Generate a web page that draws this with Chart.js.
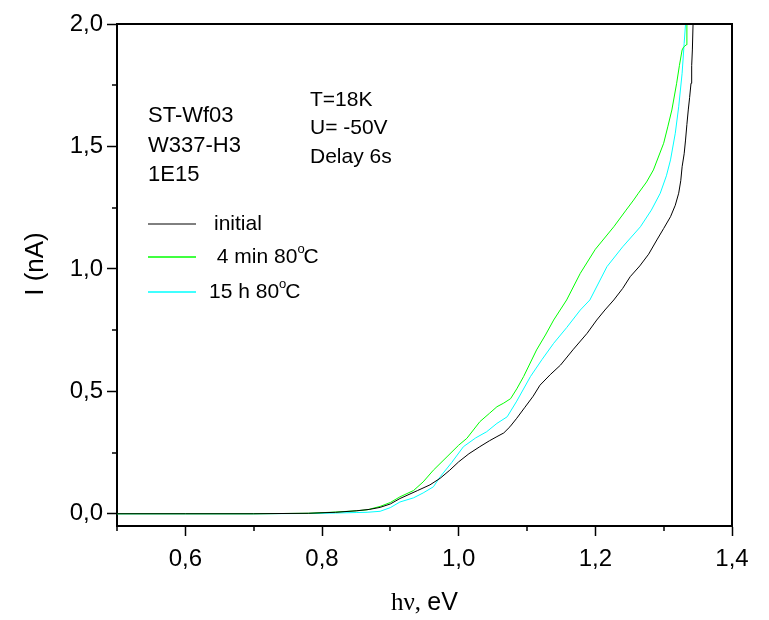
<!DOCTYPE html>
<html>
<head>
<meta charset="utf-8">
<script src="https://cdn.jsdelivr.net/npm/chart.js@4.4.0/dist/chart.umd.min.js"></script>
<style>
html, body { margin: 0; padding: 0; background: #fff; }
</style>
</head>
<body>
<canvas id="myChart" width="769" height="620"></canvas>
<script>
// photon energy (eV) and current (nA)
var initialX = [0.50, 0.60, 0.70, 0.78, 0.82, 0.85, 0.87, 0.885, 0.90, 0.914, 0.94, 0.958, 0.973, 0.987, 1.000, 1.015, 1.031, 1.045, 1.056, 1.066, 1.075, 1.085, 1.097, 1.109, 1.119, 1.134, 1.149, 1.168, 1.188, 1.202, 1.214, 1.227, 1.240, 1.251, 1.265, 1.278, 1.290, 1.300, 1.310, 1.317, 1.322, 1.325, 1.327, 1.330, 1.332, 1.334, 1.336, 1.338, 1.340, 1.341, 1.342, 1.343];
var initialY = [0, 0, 0, 0.002, 0.006, 0.012, 0.018, 0.026, 0.04, 0.062, 0.095, 0.118, 0.145, 0.178, 0.212, 0.245, 0.274, 0.298, 0.315, 0.33, 0.355, 0.39, 0.435, 0.48, 0.525, 0.568, 0.607, 0.672, 0.737, 0.791, 0.832, 0.873, 0.92, 0.968, 1.012, 1.06, 1.118, 1.165, 1.213, 1.26, 1.309, 1.36, 1.417, 1.47, 1.526, 1.59, 1.649, 1.70, 1.758, 1.83, 1.894, 2.0];

var min4X = [0.50, 0.60, 0.70, 0.78, 0.82, 0.85, 0.866, 0.885, 0.90, 0.914, 0.934, 0.948, 0.963, 0.983, 1.000, 1.012, 1.031, 1.045, 1.056, 1.066, 1.076, 1.085, 1.095, 1.114, 1.127, 1.139, 1.158, 1.178, 1.200, 1.227, 1.245, 1.256, 1.263, 1.275, 1.285, 1.300, 1.306, 1.312, 1.319, 1.323, 1.327, 1.329, 1.331, 1.333, 1.334];
var min4Y = [0, 0, 0, 0.002, 0.007, 0.012, 0.016, 0.03, 0.046, 0.069, 0.095, 0.13, 0.178, 0.233, 0.28, 0.308, 0.376, 0.41, 0.437, 0.452, 0.47, 0.51, 0.56, 0.669, 0.73, 0.791, 0.873, 0.982, 1.08, 1.172, 1.24, 1.281, 1.309, 1.355, 1.404, 1.513, 1.58, 1.649, 1.758, 1.83, 1.894, 1.905, 1.91, 1.915, 2.0];

var h15X = [0.50, 0.60, 0.70, 0.78, 0.82, 0.85, 0.866, 0.885, 0.90, 0.914, 0.934, 0.948, 0.963, 0.973, 0.990, 1.007, 1.025, 1.041, 1.056, 1.071, 1.085, 1.105, 1.122, 1.139, 1.158, 1.178, 1.192, 1.217, 1.240, 1.266, 1.282, 1.295, 1.304, 1.310, 1.317, 1.322, 1.327, 1.330, 1.332];
var h15Y = [0, 0, 0, 0.001, 0.003, 0.005, 0.006, 0.01, 0.025, 0.048, 0.065, 0.085, 0.11, 0.151, 0.21, 0.274, 0.31, 0.335, 0.369, 0.396, 0.46, 0.56, 0.63, 0.696, 0.76, 0.832, 0.873, 1.009, 1.09, 1.172, 1.24, 1.309, 1.38, 1.445, 1.554, 1.662, 1.799, 1.921, 2.0];

var xTicks = [0.5, 0.6, 0.7, 0.8, 0.9, 1.0, 1.1, 1.2, 1.3, 1.4];
var yTicks = [0, 0.25, 0.5, 0.75, 1.0, 1.25, 1.5, 1.75, 2.0];
var seriesNames = ['initial', ' 4 min 80', '15 h 80'];
var seriesColors = ['#000000', '#00ff00', '#00ffff'];
var sampleText = ['ST-Wf03', 'W337-H3', '1E15'];
var condText = ['T=18K', 'U= -50V', 'Delay 6s'];

var sans = '"Liberation Sans", Arial, sans-serif';
var serif = '"Liberation Serif", "Times New Roman", serif';

function toPoints(xs, ys) {
    return xs.map(function (x, i) { return { x: x, y: ys[i] }; });
}
function xMajor(v) { return Math.round(v * 10) % 2 === 0; }
function yMajor(v) { return Math.round(v * 4) % 2 === 0; }

var seriesData = [toPoints(initialX, initialY), toPoints(min4X, min4Y), toPoints(h15X, h15Y)];

// frame, minor ticks, titles, text notes and legend
var extras = {
    id: 'extras',
    afterDraw: function (chart) {
        var c = chart.ctx;
        var a = chart.chartArea;
        var xs = chart.scales.x;
        var ys = chart.scales.y;
        c.save();
        c.strokeStyle = '#000';
        c.lineWidth = 2;
        c.beginPath();
        c.moveTo(a.left, a.top);
        c.lineTo(a.right, a.top);
        c.lineTo(a.right, a.bottom);
        c.stroke();

        // minor ticks
        c.lineWidth = 1.5;
        c.beginPath();
        xTicks.forEach(function (v) {
            if (!xMajor(v)) {
                var px = Math.round(xs.getPixelForValue(v));
                c.moveTo(px, a.bottom);
                c.lineTo(px, a.bottom + 5);
            }
        });
        yTicks.forEach(function (v) {
            if (!yMajor(v)) {
                var py = Math.round(ys.getPixelForValue(v));
                c.moveTo(a.left, py);
                c.lineTo(a.left - 5, py);
            }
        });
        c.stroke();

        // axis titles
        c.fillStyle = '#000';
        c.textBaseline = 'middle';
        c.save();
        c.translate(36, 264);
        c.rotate(-Math.PI / 2);
        c.textAlign = 'center';
        c.font = '26px ' + sans;
        c.fillText('I (nA)', 0, 0);
        c.restore();

        c.textAlign = 'left';
        c.font = '25px ' + serif;
        var part1 = 'h\u03bd, ';
        var w1 = c.measureText(part1).width;
        c.font = '25px ' + sans;
        var w2 = c.measureText('eV').width;
        var tx = (a.left + a.right) / 2 - (w1 + w2) / 2;
        c.font = '25px ' + serif;
        c.fillText(part1, tx, 603);
        c.font = '25px ' + sans;
        c.fillText('eV', tx + w1, 603);

        // notes
        c.font = '22px ' + sans;
        sampleText.forEach(function (t, i) { c.fillText(t, 148, 116 + i * 29.5); });
        c.font = '21px ' + sans;
        condText.forEach(function (t, i) { c.fillText(t, 310, 100 + i * 28.5); });

        // legend
        var rowY = [224, 257, 292];
        var textX = [214, 211, 209];
        seriesNames.forEach(function (name, i) {
            c.strokeStyle = seriesColors[i];
            c.lineWidth = i === 0 ? 1 : 1.5;
            c.beginPath();
            c.moveTo(148, rowY[i]);
            c.lineTo(196, rowY[i]);
            c.stroke();
            c.font = '21px ' + sans;
            c.fillText(name, textX[i], rowY[i]);
            if (i > 0) {
                var w = c.measureText(name).width;
                c.font = '13px ' + sans;
                c.fillText('o', textX[i] + w, rowY[i] - 8);
                var wo = c.measureText('o').width;
                c.font = '21px ' + sans;
                c.fillText('C', textX[i] + w + wo - 1, rowY[i]);
            }
        });
        c.restore();
    }
};

var ctx = document.getElementById('myChart');

var graphData = {
    type: 'scatter',
    data: {
        datasets: seriesNames.map(function (name, i) {
            return {
                label: name,
                data: seriesData[i],
                showLine: true,
                borderColor: seriesColors[i],
                backgroundColor: seriesColors[i],
                borderWidth: 1,
                pointRadius: 0,
                tension: 0,
                fill: false
            };
        })
    },
    options: {
        responsive: false,
        animation: false,
        layout: { padding: { top: 24, right: 37, left: 0, bottom: 0 } },
        plugins: {
            legend: { display: false },
            tooltip: { enabled: false }
        },
        scales: {
            x: {
                type: 'linear',
                min: 0.5,
                max: 1.4,
                afterBuildTicks: function (s) { s.ticks = xTicks.map(function (v) { return { value: v }; }); },
                afterFit: function (s) { s.height = 94; },
                border: { color: '#000', width: 2 },
                grid: {
                    drawOnChartArea: false,
                    tickLength: 10,
                    tickWidth: 1.5,
                    tickColor: function (c) { return c.tick && xMajor(c.tick.value) ? '#000' : 'rgba(0,0,0,0)'; }
                },
                ticks: {
                    color: '#000',
                    padding: 9,
                    maxRotation: 0,
                    autoSkip: false,
                    font: { family: sans, size: 24 },
                    callback: function (v) { return xMajor(v) ? v.toFixed(1).replace('.', ',') : ''; }
                }
            },
            y: {
                type: 'linear',
                min: -0.05,
                max: 2.0,
                afterBuildTicks: function (s) { s.ticks = yTicks.map(function (v) { return { value: v }; }); },
                afterFit: function (s) { s.width = 117; },
                border: { color: '#000', width: 2 },
                grid: {
                    drawOnChartArea: false,
                    tickLength: 10,
                    tickWidth: 1.5,
                    tickColor: function (c) { return c.tick && yMajor(c.tick.value) ? '#000' : 'rgba(0,0,0,0)'; }
                },
                ticks: {
                    color: '#000',
                    padding: 4,
                    autoSkip: false,
                    font: { family: sans, size: 24 },
                    callback: function (v) { return yMajor(v) ? v.toFixed(1).replace('.', ',') : ''; }
                }
            }
        }
    },
    plugins: [extras]
};

var myChart = new Chart(ctx, graphData);
</script>
</body>
</html>
